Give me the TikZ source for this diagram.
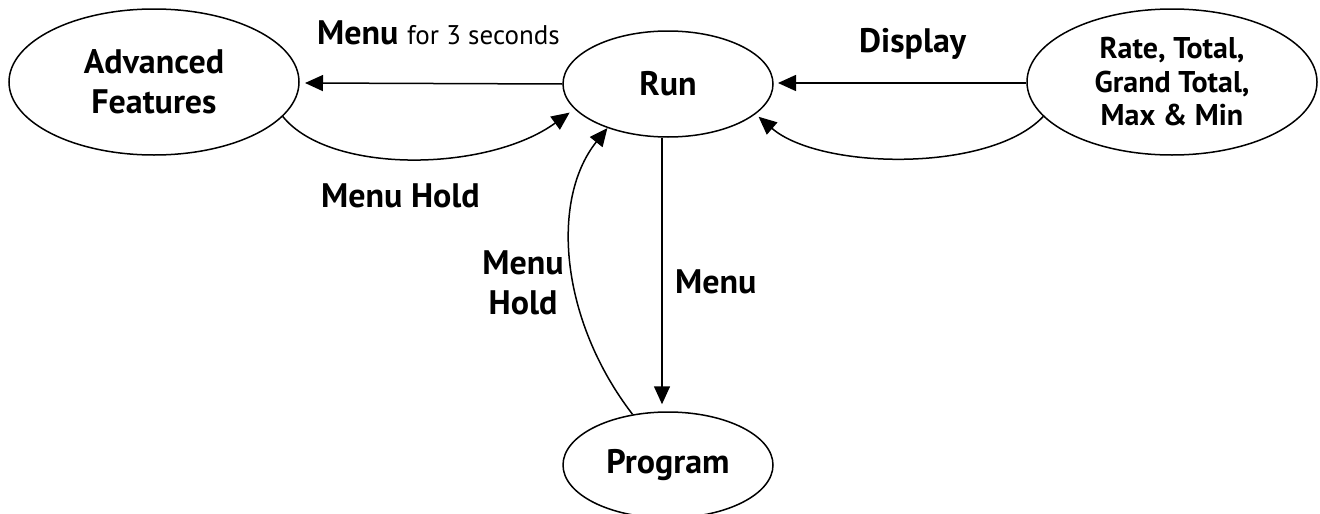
\documentclass[tikz,border=0pt]{standalone}
\usepackage{fontspec}
\setmainfont{PT Sans}
\usetikzlibrary{shapes.geometric,arrows.meta}
\tikzset{
  state/.style={draw, ellipse, line width=1.5pt, inner sep=0pt, align=center,
    font=\fontsize{34}{40}\selectfont\bfseries},
  conn/.style={line width=1.5pt, -{Triangle[length=18pt,width=16pt]}},
  lbl/.style={inner sep=0pt, font=\fontsize{34}{40}\selectfont\bfseries},
}
\begin{document}
\begin{tikzpicture}[x=1pt,y=-1pt]
\useasboundingbox (0,0) rectangle (1320,514);
\node[state, minimum width=290pt, minimum height=146pt] (adv) at (154,82) {Advanced\\Features};
\node[state, minimum width=210pt, minimum height=106pt] (run) at (668,84) {Run};
\node[state, minimum width=290pt, minimum height=146pt,
  font=\fontsize{30}{33.5}\selectfont\bfseries] (rate) at (1172,82) {Rate, Total,\\Grand Total,\\Max \& Min};
\node[state, minimum width=210pt, minimum height=106pt] (prog) at (668,465) {Program};

\coordinate (tA) at (305,83);
\coordinate (tD) at (778,83);
\draw[conn] (run.west) -- (tA);
\draw[conn] (rate.west |- tD) -- (tD);
\draw[conn] ([xshift=-6pt]run.south) -- ([xshift=-6pt]prog.north) [shorten >=7pt];
\draw[conn, shorten >=6pt] (adv.-15.2) .. controls (330,175) and (488,172) .. (run.-165);
\draw[conn, shorten >=4pt] (rate.195.2) .. controls (990,173) and (820,170) .. (run.-19);
\draw[conn] (prog.125) .. controls (560,320) and (550,200) .. (run.-144);

\node[lbl, anchor=base west] (l1) at (317,44) {Menu \fontsize{27}{30}\selectfont\mdseries for 3 seconds};
\node[lbl, anchor=base west] (l2) at (859,52) {Display};
\node[lbl, anchor=base west] (l3) at (321,207) {Menu Hold};
\node[lbl, anchor=base west] (l4) at (675,293) {Menu};
\node[lbl, anchor=base, align=center] (l5) at (523,314) {Menu\\Hold};
\end{tikzpicture}
\end{document}
